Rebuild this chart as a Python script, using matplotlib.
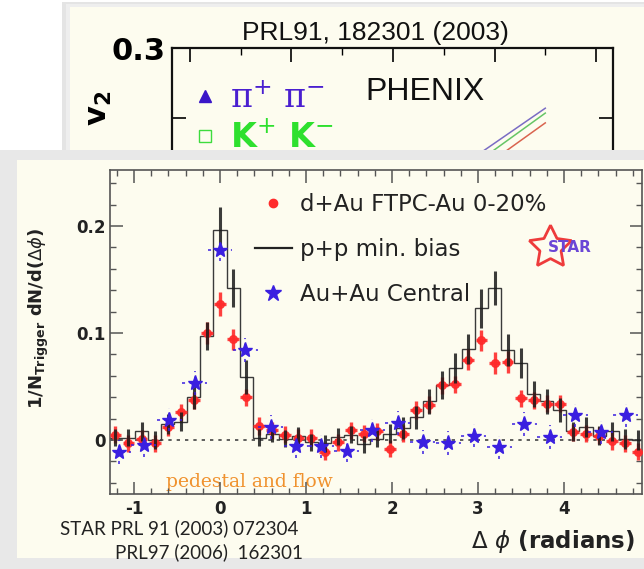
import numpy as np
import matplotlib
matplotlib.use("Agg")
import matplotlib.pyplot as plt
from matplotlib.patches import Rectangle
from matplotlib.lines import Line2D
from matplotlib.ticker import MultipleLocator, FixedLocator, FuncFormatter

plt.rcParams['axes.unicode_minus'] = False

# ---------------- data ----------------
bin_width = 0.152
bin_index = np.arange(-8, 33)
dphi = bin_index * bin_width

pp_vals = [0.002, 0.002, 0.008, 0.000, 0.015, 0.017, 0.040, 0.097, 0.196, 0.142,
           0.059, 0.002, 0.006, 0.001, 0.004, -0.002, -0.003, 0.003, 0.005, -0.004,
           0.001, 0.006, 0.011, 0.021, 0.036, 0.051, 0.067, 0.085, 0.123, 0.142,
           0.084, 0.072, 0.043, 0.036, 0.028, 0.008, 0.012, 0.004, 0.008, 0.001, 0.000]
pp_err = [0.008, 0.008, 0.009, 0.008, 0.009, 0.009, 0.011, 0.013, 0.022, 0.018,
          0.016, 0.008, 0.008, 0.008, 0.008, 0.008, 0.008, 0.008, 0.008, 0.008,
          0.008, 0.009, 0.010, 0.011, 0.012, 0.013, 0.014, 0.014, 0.018, 0.016,
          0.015, 0.014, 0.012, 0.012, 0.011, 0.009, 0.009, 0.009, 0.009, 0.009, 0.009]

dau_vals = [0.005, -0.003, 0.001, -0.003, 0.012, 0.026, 0.037, 0.100, 0.127, 0.094,
            0.040, 0.013, 0.009, 0.005, 0.002, 0.002, -0.011, -0.002, 0.009, 0.006,
            0.008, -0.008, 0.006, 0.028, 0.033, 0.051, 0.052, 0.075, 0.093, 0.072,
            0.073, 0.039, 0.037, 0.034, 0.034, 0.007, 0.006, 0.004, -0.001, -0.003, -0.011]
dau_err = [0.008] * 7 + [0.010, 0.011, 0.010] + [0.008] * 17 + [0.010, 0.010, 0.010, 0.010] + [0.008] * 10

auau_dphi = np.arange(-4, 17) * 0.295
auau_vals = [-0.011, -0.005, 0.019, 0.053, 0.178, 0.084, 0.012, -0.006, -0.006, -0.010,
             0.009, 0.016, -0.002, -0.003, 0.004, -0.007, 0.015, 0.003, 0.023, 0.007, 0.023]
auau_err = 0.011

# PHENIX v2 lines (visible parts)
pt_pi = [2.76, 3.50]
v2_pi = [0.220, 0.257]
pt_k = [2.86, 3.50]
v2_k = [0.220, 0.2535]
pt_p = [2.99, 3.50]
v2_p = [0.220, 0.2465]

# ---------------- figure ----------------
W, H = 644, 569
fig = plt.figure(figsize=(6.44, 5.69), dpi=100)
fig.patch.set_facecolor('white')
cream = '#fdfcef'


def fbox(x0, y0, x1, y1):
    return [x0 / W, 1 - y1 / H, (x1 - x0) / W, (y1 - y0) / H]


# background + top panel
ax_bg = fig.add_axes([0, 0, 1, 1])
ax_bg.set_xlim(0, W)
ax_bg.set_ylim(H, 0)
ax_bg.axis('off')
ax_bg.add_patch(Rectangle((62, 2), W, 200, fc='#e4e4e4', lw=0))
ax_bg.add_patch(Rectangle((66, 4), W, 200, fc='#eeeeee', lw=0))
ax_bg.add_patch(Rectangle((70, 7), W, 200, fc=cream, lw=0))
ax_bg.text(375, 33, 'PRL91, 182301 (2003)', fontsize=19, family='Liberation Sans',
           ha='center', va='center', color='#111111')
ax_bg.text(100, 108, r'$\mathbf{v_2}$', fontsize=22, rotation=90, ha='center', va='center')

# top chart
ax_top = fig.add_axes(fbox(172, 48, 613, 300))
ax_top.set_facecolor('none')
ax_top.set_xlim(-0.177, 4.167)
ax_top.set_ylim(0.12, 0.30)
for s in ax_top.spines.values():
    s.set_linewidth(1.6)
    s.set_color('#111111')
ax_top.xaxis.set_major_locator(FixedLocator([0, 1, 2, 3, 4]))
ax_top.xaxis.set_minor_locator(FixedLocator([0.5, 1.5, 2.5, 3.5]))
ax_top.yaxis.set_major_locator(FixedLocator([0.25, 0.30]))
ax_top.set_yticklabels(['', '0.3'], fontsize=22, fontweight='bold')
ax_top.set_xticklabels([])
ax_top.tick_params(which='both', direction='in', top=True, right=True, bottom=False)
ax_top.tick_params(which='major', length=10, width=1.2)
ax_top.tick_params(which='minor', length=5, width=1.0)
ax_top.tick_params(axis='y', pad=5)
ax_top.plot(pt_pi, v2_pi, color='#7a6cc4', lw=1.1)
ax_top.plot(pt_k, v2_k, color='#66c566', lw=1.1)
ax_top.plot(pt_p, v2_p, color='#d9644f', lw=1.1)
h_pi = Line2D([], [], marker='^', color='#3a16c8', ls='none', ms=9)
h_k = Line2D([], [], marker='s', mfc='none', mec='#3ddc3d', ls='none', ms=9, mew=1.0)
leg_top = ax_top.legend([h_pi, h_k], ['π$^{+}$ π$^{-}$', 'K$^{+}$ K$^{-}$'],
                        loc='upper left', bbox_to_anchor=(0.045, 0.862), frameon=False,
                        prop={'size': 24, 'family': 'DejaVu Serif',
                              'math_fontfamily': 'dejavuserif'},
                        handlelength=0.8, handletextpad=0.35, labelspacing=0.2,
                        borderpad=0, borderaxespad=0)
leg_top.get_texts()[0].set_color('#4a1fd0')
leg_top.get_texts()[1].set_color('#2ee02e')
leg_top.get_texts()[1].set_fontweight('bold')
leg_top.get_texts()[1].set_family('DejaVu Sans')
leg_top.get_texts()[1].set_math_fontfamily('dejavusans')
ax_top.text((425 - 172) / 441, (300 - 92) / 252, 'PHENIX', transform=ax_top.transAxes,
            fontsize=23, family='Liberation Sans', ha='center', va='center', color='#111111')

# bottom panel cover
ax_cov = fig.add_axes([0, 0, 1, 1])
ax_cov.set_xlim(0, W)
ax_cov.set_ylim(H, 0)
ax_cov.axis('off')
ax_cov.add_patch(Rectangle((0, 150), W, H - 150, fc='#e8e8e8', lw=0))
grad = np.linspace(0.80, 0.62, 17)[None, :]
ax_cov.imshow(np.repeat(grad, 10, axis=0), extent=(0, 17, 560, 152), cmap='gray',
              vmin=0, vmax=1, aspect='auto', interpolation='bilinear')
tgrad = np.linspace(0.92, 0.72, 8)[:, None]
ax_cov.imshow(np.repeat(tgrad, 10, axis=1), extent=(17, W, 160, 152), cmap='gray',
              vmin=0, vmax=1, aspect='auto', interpolation='bilinear')
ax_cov.add_patch(Rectangle((17, 160), W, 398, fc=cream, lw=0))
ax_cov.set_xlim(0, W)
ax_cov.set_ylim(H, 0)
ax_cov.text(60, 528, 'STAR PRL 91 (2003) 072304', fontsize=13.5, family='Lato',
            ha='left', va='center', color='#222222')
ax_cov.text(115, 552, 'PRL97 (2006)  162301', fontsize=13.5, family='Lato',
            ha='left', va='center', color='#222222')
ax_cov.text(166, 482, 'pedestal and flow', fontsize=13.5, family='DejaVu Serif',
            ha='left', va='center', color='#f0922e')

# main chart
ax = fig.add_axes(fbox(110, 170, 642, 494))
ax.set_facecolor('none')
ax.set_xlim(-1.279, 4.907)
ax.set_ylim(-0.0505, 0.2523)
for s in ax.spines.values():
    s.set_linewidth(1.2)
    s.set_color('#555555')
ax.xaxis.set_major_locator(MultipleLocator(1))
ax.xaxis.set_minor_locator(MultipleLocator(0.2))
ax.yaxis.set_major_locator(MultipleLocator(0.1))
ax.yaxis.set_minor_locator(MultipleLocator(0.02))
ax.yaxis.set_major_formatter(FuncFormatter(lambda v, p: '0' if abs(v) < 1e-9 else f'{v:g}'))
ax.tick_params(which='both', direction='in', top=True, right=True, colors='#555555',
               labelcolor='#222222')
ax.tick_params(which='major', length=9, width=1.1)
ax.tick_params(which='minor', length=4.5, width=1.0)
ax.tick_params(axis='y', pad=3)
ax.tick_params(axis='x', pad=4)
for lab in ax.get_xticklabels() + ax.get_yticklabels():
    lab.set_fontweight('bold')
    lab.set_fontsize(12)

ax.axhline(0, color='#444444', ls=(0, (2, 3)), lw=1.2, zorder=1)
edges = np.append(dphi - bin_width / 2, dphi[-1] + bin_width / 2)
ax.stairs(pp_vals, edges, baseline=None, color='#3a3a3a', lw=1.0, zorder=2)

red = '#ff2b2b'
ax.errorbar(dphi, dau_vals, yerr=dau_err, xerr=bin_width * 0.45, fmt='o', color=red,
            ms=5.5, elinewidth=2.4, capsize=0, alpha=0.9, zorder=3)
ax.errorbar(dphi, pp_vals, yerr=pp_err, fmt='none', ecolor='#1a1a1a', elinewidth=2.2,
            capsize=0, alpha=0.85, zorder=4)
blue = '#3a1fe0'
eb = ax.errorbar(auau_dphi, auau_vals, yerr=auau_err, xerr=0.145, fmt='*', color=blue,
                 ms=11, elinewidth=1.1, capsize=0, zorder=5)
for lc in eb[2]:
    lc.set_linestyle((0, (2, 3)))

h_red = Line2D([], [], marker='o', color=red, ls='none', ms=6)
h_pp = Line2D([], [], color='#222222', lw=1.6)
h_au = Line2D([], [], marker='*', color=blue, ls='none', ms=12)
leg = ax.legend([h_red, h_pp, h_au], ['d+Au FTPC-Au 0-20%', 'p+p min. bias', 'Au+Au Central'],
                loc='upper left', bbox_to_anchor=((255 - 110) / 532, (494 - 193) / 324),
                frameon=False, fontsize=16.5, handlelength=1.6, handletextpad=0.35,
                labelspacing=0.97, borderpad=0, borderaxespad=0)
for t in leg.get_texts():
    t.set_color('#222222')

# STAR logo
ax.plot([0.827], [0.762], transform=ax.transAxes, marker=(5, 1, 0), ms=32, mfc='none',
        mec='#ee3b3b', mew=2.0, ls='none')
ax.text(0.865, 0.762, 'STAR', transform=ax.transAxes, fontsize=11, fontweight='bold',
        color='#6a46d6', ha='center', va='center')

ax.set_ylabel(r'1/N$_{\mathbf{Trigger}}$ dN/d($\Delta\phi$)', fontsize=13, fontweight='bold',
              color='#222222')
ax.yaxis.set_label_coords(-0.11, 0.543)
ax.set_xlabel(r'$\Delta$ $\phi$ (radians)', fontsize=16.5, fontweight='bold', color='#222222')
ax.xaxis.set_label_coords(0.833, -0.105)

fig.savefig('out.png', dpi=100)
